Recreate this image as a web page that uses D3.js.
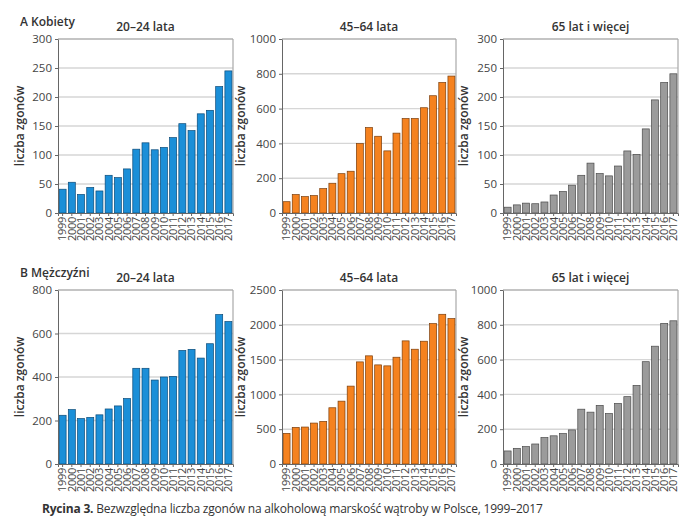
<!DOCTYPE html>
<html>
<head>
<meta charset="utf-8">
<script src="https://cdn.jsdelivr.net/npm/d3@7"></script>
<style>
  body { margin: 0; background: #fff; }
  svg text { font-family: "Open Sans", sans-serif; fill: #333; }
  .tick text { font-size: 11.5px; fill: #444; }
  .x-axis .tick text { font-size: 11px; letter-spacing: -0.3px; }
  .panel-title { font-size: 12px; font-weight: 600; }
  .group-title { font-size: 12px; font-weight: 600; }
  .y-label { font-size: 12px; font-weight: 600; }
  .caption { font-size: 12px; letter-spacing: -0.2px; }
</style>
</head>
<body>
<div id="chart"></div>
<script>
// data
const years = ["1999","2000","2001","2002","2003","2004","2005","2006","2007","2008",
               "2009","2010","2011","2012","2013","2014","2015","2016","2017"];

const womenYoung = [41, 53, 32, 44, 38, 65, 61, 76, 110, 121, 109, 113, 130, 154, 142, 171, 177, 218, 245];
const womenMid   = [65, 106, 94, 100, 140, 171, 226, 240, 399, 491, 441, 357, 459, 543, 543, 605, 674, 750, 787];
const womenOld   = [10, 14, 17, 16, 19, 31, 37, 48, 65, 86, 68, 64, 81, 107, 101, 145, 195, 225, 240];

const menYoung = [224, 250, 209, 214, 226, 253, 267, 301, 440, 440, 386, 400, 403, 522, 527, 487, 553, 687, 655];
const menMid   = [440, 526, 531, 588, 612, 808, 903, 1119, 1467, 1554, 1424, 1410, 1534, 1769, 1649, 1764, 2017, 2151, 2089];
const menOld   = [75, 90, 100, 115, 152, 162, 175, 196, 315, 298, 337, 290, 348, 387, 452, 588, 677, 808, 823];

const panelTitles = ["20–24 lata", "45–64 lata", "65 lat i więcej"];
const groupTitles = ["A Kobiety", "B Mężczyźni"];

const ticksA = [[0, 50, 100, 150, 200, 250, 300], [0, 200, 400, 600, 800, 1000], [0, 50, 100, 150, 200, 250, 300]];
const ticksB = [[0, 200, 400, 600, 800], [0, 500, 1000, 1500, 2000, 2500], [0, 200, 400, 600, 800, 1000]];

const colors  = ["#1b8fd8", "#f5821f", "#9b9b9b"];
const strokes = ["#0b4a78", "#7a3d0a", "#4a4a4a"];

const width = 700, height = 532;

const svg = d3.select("#chart").append("svg")
    .attr("width", width)
    .attr("height", height);

// panel layout
const colX = [[58, 233], [282, 456], [503, 678]];
const rowY = [[39, 213], [290, 464]];

const rows = [
    {series: [womenYoung, womenMid, womenOld], ticks: ticksA},
    {series: [menYoung, menMid, menOld], ticks: ticksB}
];

rows.forEach(function(row, r) {
    // group title
    svg.append("text")
        .attr("class", "group-title")
        .attr("x", 20)
        .attr("y", rowY[r][0] - 13)
        .text(groupTitles[r]);

    row.series.forEach(function(values, c) {
        let tks = row.ticks[c];
        let x = d3.scaleBand()
            .domain(years)
            .range(colX[c])
            .paddingInner(0.24)
            .paddingOuter(0.12);

        let y = d3.scaleLinear()
            .domain([0, tks[tks.length - 1]])
            .range([rowY[r][1], rowY[r][0]]);

        let g = svg.append("g");

        // gridlines
        g.selectAll(".grid")
            .data(tks.slice(1))
            .enter().append("line")
            .attr("class", "grid")
            .attr("x1", colX[c][0])
            .attr("x2", colX[c][1])
            .attr("y1", d => y(d))
            .attr("y2", d => y(d))
            .attr("stroke", "#d6d6d6")
            .attr("stroke-width", 1.4);

        // right frame
        g.append("line")
            .attr("x1", colX[c][1]).attr("x2", colX[c][1])
            .attr("y1", rowY[r][0]).attr("y2", rowY[r][1])
            .attr("stroke", "#a8a8a8")
            .attr("stroke-width", 1.2);

        // bars
        g.selectAll(".bar")
            .data(values)
            .enter().append("rect")
            .attr("class", "bar")
            .attr("x", (d, i) => x(years[i]))
            .attr("width", x.bandwidth())
            .attr("y", d => y(d))
            .attr("height", d => y(0) - y(d))
            .attr("fill", colors[c])
            .attr("stroke", strokes[c])
            .attr("stroke-width", 0.7);

        // y axis
        let yAxis = d3.axisLeft(y)
            .tickValues(tks)
            .tickFormat(d3.format("d"))
            .tickSize(3)
            .tickPadding(3);

        g.append("g")
            .attr("class", "y-axis axis")
            .attr("transform", `translate(${colX[c][0]},0)`)
            .call(yAxis)
            .call(s => s.select(".domain").attr("stroke", "#666"))
            .call(s => s.selectAll(".tick line").attr("stroke", "#666"));

        // x axis
        let xAxis = d3.axisBottom(x)
            .tickSize(3)
            .tickPadding(2);

        g.append("g")
            .attr("class", "x-axis axis")
            .attr("transform", `translate(0,${rowY[r][1]})`)
            .call(xAxis)
            .call(s => s.select(".domain").attr("stroke", "#666"))
            .call(s => s.selectAll(".tick line").attr("stroke", "#666"))
            .selectAll("text")
            .attr("text-anchor", "end")
            .attr("dy", "0.35em")
            .attr("transform", "translate(0,4) rotate(-90)")
            .attr("x", 0)
            .attr("y", 0);

        // top frame
        g.append("line")
            .attr("x1", colX[c][0]).attr("x2", colX[c][1])
            .attr("y1", rowY[r][0]).attr("y2", rowY[r][0])
            .attr("stroke", "#a8a8a8")
            .attr("stroke-width", 1.2);

        // panel title
        g.append("text")
            .attr("class", "panel-title")
            .attr("x", (colX[c][0] + colX[c][1]) / 2)
            .attr("y", rowY[r][0] - 8)
            .attr("text-anchor", "middle")
            .text(panelTitles[c]);

        // y label
        let labelX = [24, 245, 468][c];
        g.append("text")
            .attr("class", "y-label")
            .attr("transform", `translate(${labelX},${(rowY[r][0] + rowY[r][1]) / 2}) rotate(-90)`)
            .attr("text-anchor", "middle")
            .text("liczba zgonów");
    });
});

// caption
let cap = svg.append("text")
    .attr("class", "caption")
    .attr("x", 42)
    .attr("y", 513);
cap.append("tspan").attr("font-weight", 700).text("Rycina 3.");
cap.append("tspan").text(" Bezwzględna liczba zgonów na alkoholową marskość wątroby w Polsce, 1999–2017");
</script>
</body>
</html>
